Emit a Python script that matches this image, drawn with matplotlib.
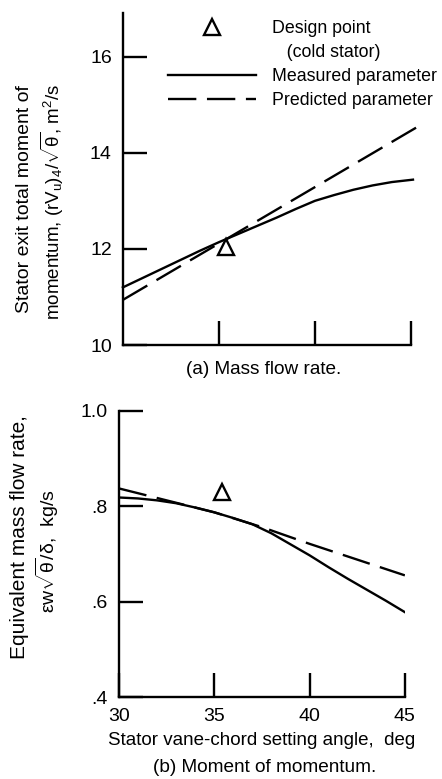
import matplotlib
matplotlib.use("Agg")
import matplotlib.pyplot as plt
from matplotlib.lines import Line2D

plt.rcParams["font.family"] = ["Liberation Sans", "DejaVu Sans"]
plt.rcParams["mathtext.fontset"] = "custom"
plt.rcParams["mathtext.rm"] = "Liberation Sans"
plt.rcParams["mathtext.it"] = "Liberation Sans"

# (a) moment of momentum vs setting angle
angle_meas_a = [30, 31, 32, 33, 34, 35, 36, 37, 38, 39, 40, 41, 42, 43, 44, 45.1]
moment_meas = [11.2, 11.39, 11.58, 11.77, 11.96, 12.14, 12.31, 12.48, 12.65,
               12.83, 13.0, 13.12, 13.23, 13.32, 13.39, 13.44]
angle_pred_a = [30, 45.6]
moment_pred = [10.94, 14.6]
design_angle_a = 35.36
design_moment = 12.04

# (b) mass flow vs setting angle
angle_b = [30, 31, 32, 33, 34, 35, 36, 37, 38, 39, 40, 41, 42, 43, 44, 45]
flow_meas = [0.818, 0.816, 0.812, 0.806, 0.797, 0.787, 0.775, 0.762, 0.743,
             0.72, 0.697, 0.672, 0.648, 0.625, 0.602, 0.578]
angle_pred_b = [30, 32, 35, 37.5, 40, 42.5, 45]
flow_pred = [0.837, 0.817, 0.787, 0.756, 0.721, 0.688, 0.655]
design_angle_b = 35.4
design_flow = 0.829

x_ticks = [30, 35, 40, 45]
ya_ticks = [10, 12, 14, 16]
yb_ticks = [0.4, 0.6, 0.8, 1.0]
yb_labels = [".4", ".6", ".8", "1.0"]

DASH = (12, 4.5)
LW = 1.7

fig = plt.figure(figsize=(4.42, 7.79), dpi=100)


def style(ax):
    for s in ["top", "right"]:
        ax.spines[s].set_visible(False)
    for s in ["left", "bottom"]:
        ax.spines[s].set_linewidth(1.7)
    ax.tick_params(direction="in", length=17, width=1.7, labelsize=14, pad=8)


# ---- (a) ----
ax1 = fig.add_axes([0.278, 0.557, 0.652, 0.426])
style(ax1)
ax1.plot(angle_meas_a, moment_meas, color="black", lw=LW, clip_on=False)
ax1.plot(angle_pred_a, moment_pred, color="black", lw=LW, dashes=DASH, clip_on=False)
ax1.plot(design_angle_a, design_moment, marker="^", ms=11, mfc="white",
         mec="black", mew=1.7, ls="none", clip_on=False)
ax1.set_xlim(30, 45)
ax1.set_ylim(10, 16.9)
ax1.set_xticks(x_ticks[1:])
ax1.set_xticklabels([])
ax1.set_yticks(ya_ticks)
ax1.set_yticklabels([str(v) for v in ya_ticks])
ax1.text(-0.34, 0.44, "Stator exit total moment of", rotation=90,
         transform=ax1.transAxes, ha="center", va="center", fontsize=14)
ax1.text(-0.245, 0.43, r"momentum, $(rV_u)_4/\sqrt{\theta}$, m$^2$/s", rotation=90,
         transform=ax1.transAxes, ha="center", va="center", fontsize=13.5)
ax1.text(0.49, -0.075, "(a) Mass flow rate.", transform=ax1.transAxes,
         ha="center", va="center", fontsize=13.7)

handles = [
    Line2D([], [], marker="^", ms=11, mfc="white", mec="black", mew=1.7, ls="none"),
    Line2D([], [], ls="none"),
    Line2D([], [], color="black", lw=LW),
    Line2D([], [], color="black", lw=LW, dashes=DASH),
]
labels = ["Design point", "   (cold stator)", "Measured parameter", "Predicted parameter"]
ax1.legend(handles, labels, loc="upper left", bbox_to_anchor=(0.155, 0.98),
           frameon=False, fontsize=12.8, handlelength=5.0, handletextpad=0.9,
           labelspacing=0.4, borderaxespad=0, borderpad=0)

# ---- (b) ----
ax2 = fig.add_axes([0.269, 0.105, 0.647, 0.368])
style(ax2)
ax2.plot(angle_b, flow_meas, color="black", lw=LW)
ax2.plot(angle_pred_b, flow_pred, color="black", lw=LW, dashes=DASH)
ax2.plot(design_angle_b, design_flow, marker="^", ms=11, mfc="white",
         mec="black", mew=1.7, ls="none")
ax2.set_xlim(30, 45)
ax2.set_ylim(0.4, 1.0)
ax2.set_xticks(x_ticks)
ax2.set_xticklabels([str(v) for v in x_ticks])
ax2.set_yticks(yb_ticks)
ax2.set_yticklabels(yb_labels)
ax2.text(-0.346, 0.557, "Equivalent mass flow rate,", rotation=90,
         transform=ax2.transAxes, ha="center", va="center", fontsize=15)
ax2.text(-0.25, 0.51, r"$\epsilon w\sqrt{\theta}/\delta$,  kg/s", rotation=90,
         transform=ax2.transAxes, ha="center", va="center", fontsize=14)
ax2.set_xlabel("Stator vane-chord setting angle,  deg", fontsize=13.5, labelpad=5)
ax2.text(0.51, -0.245, "(b) Moment of momentum.", transform=ax2.transAxes,
         ha="center", va="center", fontsize=13.7)

fig.savefig("out.png", dpi=100)
